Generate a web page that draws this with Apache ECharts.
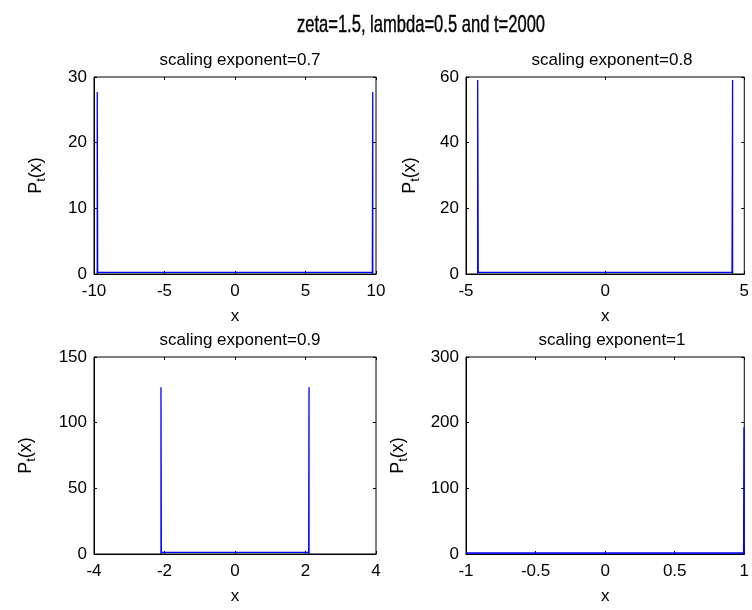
<!DOCTYPE html>
<html>
<head>
<meta charset="utf-8">
<script src="https://cdn.jsdelivr.net/npm/echarts@6/dist/echarts.min.js"></script>
<style>html,body{margin:0;padding:0;background:#fff}#c{width:752px;height:610px}</style>
</head>
<body>
<div id="c"></div>
<script>
// ---- data ----
const mainTitle = 'zeta=1.5, lambda=0.5 and t=2000';
const subTitles = ['scaling exponent=0.7', 'scaling exponent=0.8', 'scaling exponent=0.9', 'scaling exponent=1'];
const xMin = [-10, -5, -4, -1];
const xMax = [10, 5, 4, 1];
const xStep = [5, 5, 2, 0.5];
const yMax = [30, 60, 150, 300];
const yStep = [10, 20, 50, 100];
// P_t(x) samples (x, P)
const x1 = [-9.77, -9.77, -9.74, 9.74, 9.77, 9.77];
const p1 = [0, 27.7, 0.25, 0.25, 27.7, 0];
const x2 = [-4.58, -4.58, -4.56, 4.56, 4.58, 4.58];
const p2 = [0, 59.1, 0.5, 0.5, 59.1, 0];
const x3 = [-2.1, -2.1, -2.09, 2.09, 2.1, 2.1];
const p3 = [0, 127, 1.2, 1.2, 127, 0];
const x4 = [-1, 0.995, 0.998, 0.998];
const p4 = [1.5, 1.5, 193, 0];
const xs = [x1, x2, x3, x4];
const ps = [p1, p2, p3, p4];

// ---- layout ----
const gridLeft = [94, 466, 94, 466];
const gridTop = [77, 77, 357, 357];
const gridW = 282, gridH = 197;
const yNameGap = [46, 44, 56, 56];
const FONT = 'Liberation Sans, Arial, sans-serif';

const grids = [], xAxes = [], yAxes = [], series = [], titles = [];
for (let i = 0; i < 4; i++) {
  grids.push({left: gridLeft[i], top: gridTop[i], width: gridW, height: gridH,
    show: true, borderColor: '#000', borderWidth: 1, backgroundColor: '#fff', containLabel: false});
  titles.push({
    text: subTitles[i], left: gridLeft[i] + gridW / 2, top: gridTop[i] - 30, textAlign: 'center',
    textStyle: {fontFamily: FONT, fontSize: 17, fontWeight: 'normal', color: '#000'}
  });
  xAxes.push({
    type: 'value', gridIndex: i, min: xMin[i], max: xMax[i], interval: xStep[i],
    position: 'bottom',
    name: 'x', nameLocation: 'middle', nameGap: 34,
    nameTextStyle: {fontFamily: FONT, fontSize: 17, color: '#000'},
    axisLine: {show: true, onZero: false, lineStyle: {color: '#000', width: 1}},
    axisTick: {show: true, inside: true, length: 3, lineStyle: {color: '#000'}},
    axisLabel: {show: true, margin: 9, fontFamily: FONT, fontSize: 17, color: '#000', hideOverlap: false, showMinLabel: true, showMaxLabel: true},
    splitLine: {show: false}
  });
  xAxes.push({
    type: 'value', gridIndex: i, min: xMin[i], max: xMax[i], interval: xStep[i],
    position: 'top',
    axisLine: {show: false, onZero: false},
    axisTick: {show: true, inside: true, length: 3, lineStyle: {color: '#000'}},
    axisLabel: {show: false}, splitLine: {show: false}
  });
  yAxes.push({
    type: 'value', gridIndex: i, min: 0, max: yMax[i], interval: yStep[i],
    position: 'left',
    name: 'P{s|t}(x)', nameLocation: 'middle', nameGap: yNameGap[i],
    nameTextStyle: {fontFamily: FONT, fontSize: 18, color: '#000',
      rich: {s: {fontFamily: FONT, fontSize: 13, color: '#000', padding: [11, 0, 0, 0]}}},
    axisLine: {show: true, onZero: false, lineStyle: {color: '#000', width: 1}},
    axisTick: {show: true, inside: true, length: 3, lineStyle: {color: '#000'}},
    axisLabel: {show: true, margin: 7, fontFamily: FONT, fontSize: 17, color: '#000', showMinLabel: true, showMaxLabel: true},
    splitLine: {show: false}
  });
  yAxes.push({
    type: 'value', gridIndex: i, min: 0, max: yMax[i], interval: yStep[i],
    position: 'right',
    axisLine: {show: false, onZero: false},
    axisTick: {show: true, inside: true, length: 3, lineStyle: {color: '#000'}},
    axisLabel: {show: false}, splitLine: {show: false}
  });
  series.push({
    type: 'line', xAxisIndex: 2 * i, yAxisIndex: 2 * i,
    data: xs[i].map((v, k) => [v, ps[i][k]]),
    showSymbol: false, symbol: 'none', animation: false,
    lineStyle: {color: '#0000ff', width: 1.3},
    clip: false
  });
}

const chart = echarts.init(document.getElementById('c'), null, {renderer: 'canvas'});
chart.setOption({
  backgroundColor: '#fff',
  animation: false,
  title: titles,
  graphic: [{
    type: 'text', x: 421, y: 25, scaleX: 0.69, scaleY: 1,
    style: {text: mainTitle, fontFamily: FONT, fontSize: 24, fill: '#000',
      stroke: '#000', lineWidth: 0.4,
      align: 'center', verticalAlign: 'middle', textAlign: 'center', textVerticalAlign: 'middle'}
  }],
  grid: grids,
  xAxis: xAxes,
  yAxis: yAxes,
  series: series
});
</script>
</body>
</html>
